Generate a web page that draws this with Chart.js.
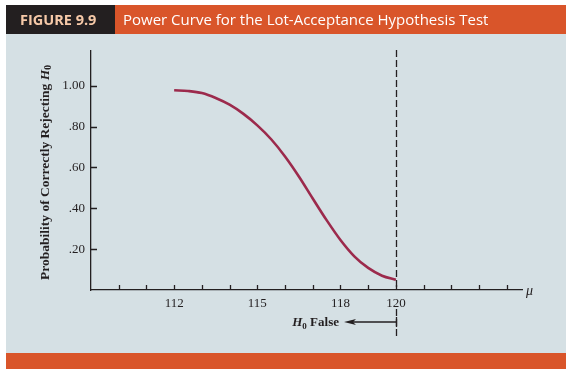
<!DOCTYPE html>
<html>
<head>
<meta charset="utf-8">
<script src="https://cdn.jsdelivr.net/npm/chart.js@4"></script>
<style>
  html, body { margin: 0; padding: 0; background: #fff; }
  canvas { display: block; }
</style>
</head>
<body>
<canvas id="power" width="572" height="373"></canvas>
<script>
// values (every half unit of mu)
const muValues = [112, 112.5, 113, 113.5, 114, 114.5, 115, 115.5, 116, 116.5, 117, 117.5, 118, 118.5, 119, 119.5, 120];
const powerValues = [0.978, 0.974, 0.964, 0.940, 0.907, 0.862, 0.806, 0.738, 0.654, 0.556, 0.448, 0.342, 0.245, 0.165, 0.108, 0.070, 0.050];

const xTickValues = [110, 111, 112, 113, 114, 115, 116, 117, 118, 119, 120, 121, 122, 123, 124];
const xTickLabels = ['', '', '112', '', '', '115', '', '', '118', '', '120', '', '', '', ''];
const yTickValues = [0.2, 0.4, 0.6, 0.8, 1.0];
const yTickLabels = ['.20', '.40', '.60', '.80', '1.00'];

const C = {
  ink: '#231f20',
  panel: '#d5e0e4',
  orange: '#d9552a',
  curve: '#9c2a4c',
  peach: '#f6c9a8'
};
const SERIF = '"Liberation Serif", "DejaVu Serif", serif';
const SANS = '"Open Sans", "Noto Sans", sans-serif';

const frame = {
  id: 'frame',
  beforeDraw(chart) {
    const ctx = chart.ctx;
    ctx.save();
    ctx.fillStyle = '#fff';
    ctx.fillRect(0, 0, chart.width, chart.height);
    ctx.fillStyle = C.panel;
    ctx.fillRect(6, 34, 560, 319);
    ctx.fillStyle = C.orange;
    ctx.fillRect(6, 353, 560, 16);
    ctx.fillRect(115, 5, 451, 29);
    ctx.fillStyle = C.ink;
    ctx.fillRect(6, 5, 109, 29);
    ctx.textBaseline = 'alphabetic';
    ctx.fillStyle = C.peach;
    ctx.font = 'bold 14.5px ' + SANS;
    ctx.fillText('FIGURE 9.9', 20, 25);
    ctx.fillStyle = '#fff';
    ctx.font = '15px ' + SANS;
    ctx.fillText('Power Curve for the Lot-Acceptance Hypothesis Test', 123, 25);
    ctx.restore();
  },
  afterDraw(chart) {
    const ctx = chart.ctx;
    const xs = chart.scales.x, ys = chart.scales.y;
    const area = chart.chartArea;
    ctx.save();
    ctx.strokeStyle = C.ink;
    ctx.fillStyle = C.ink;
    ctx.lineWidth = 1.3;

    // inward tick marks
    ctx.beginPath();
    xTickValues.forEach(v => {
      const px = Math.round(xs.getPixelForValue(v)) + 0.5;
      ctx.moveTo(px, area.bottom);
      ctx.lineTo(px, area.bottom - 5);
    });
    yTickValues.forEach(v => {
      const py = Math.round(ys.getPixelForValue(v)) + 0.5;
      ctx.moveTo(area.left, py);
      ctx.lineTo(area.left + 6, py);
    });
    ctx.stroke();

    // dashed line at mu = 120 (broken around the tick label)
    const x120 = Math.round(xs.getPixelForValue(120)) + 0.5;
    ctx.setLineDash([7, 3]);
    ctx.beginPath();
    ctx.moveTo(x120, area.top - 1);
    ctx.lineTo(x120, area.bottom);
    ctx.moveTo(x120, 309);
    ctx.lineTo(x120, 336);
    ctx.stroke();
    ctx.setLineDash([]);

    // H0 False arrow
    const ay = 322;
    ctx.beginPath();
    ctx.moveTo(x120, ay);
    ctx.lineTo(352, ay);
    ctx.moveTo(x120, ay - 5);
    ctx.lineTo(x120, ay + 5);
    ctx.stroke();
    ctx.beginPath();
    ctx.moveTo(344, ay);
    ctx.lineTo(356, ay - 3);
    ctx.lineTo(353, ay);
    ctx.lineTo(356, ay + 3);
    ctx.closePath();
    ctx.fill();

    ctx.textBaseline = 'alphabetic';
    ctx.textAlign = 'right';
    ctx.font = 'bold 13px ' + SERIF;
    ctx.fillText('False', 339, 326);
    const fw = ctx.measureText(' False').width;
    ctx.font = 'bold 9px ' + SERIF;
    ctx.fillText('0', 339 - fw, 328.5);
    const zw = ctx.measureText('0').width;
    ctx.font = 'italic bold 13px ' + SERIF;
    ctx.fillText('H', 339 - fw - zw, 326);

    // mu label
    ctx.textAlign = 'left';
    ctx.font = 'italic 14px ' + SERIF;
    ctx.fillText('\u03bc', 526, 295);

    // y title
    ctx.translate(48.5, 280);
    ctx.rotate(-Math.PI / 2);
    ctx.font = 'bold 13.5px ' + SERIF;
    const main = 'Probability of Correctly Rejecting ';
    ctx.fillText(main, 0, 0);
    let w = ctx.measureText(main).width;
    ctx.font = 'italic bold 13.5px ' + SERIF;
    ctx.fillText('H', w, 0);
    w += ctx.measureText('H').width;
    ctx.font = 'bold 9.5px ' + SERIF;
    ctx.fillText('0', w, 2.5);
    ctx.restore();
  }
};

new Chart(document.getElementById('power'), {
  type: 'line',
  data: {
    datasets: [{
      data: muValues.map((m, i) => ({ x: m, y: powerValues[i] })),
      borderColor: C.curve,
      borderWidth: 2.6,
      pointRadius: 0,
      cubicInterpolationMode: 'monotone',
      fill: false,
      clip: false
    }]
  },
  options: {
    responsive: false,
    animation: false,
    events: [],
    layout: { padding: { left: 0, top: 51, right: 50, bottom: 0 } },
    plugins: { legend: { display: false }, tooltip: { enabled: false } },
    scales: {
      x: {
        type: 'linear',
        min: 109,
        max: 124.55,
        afterBuildTicks: s => { s.ticks = xTickValues.map(v => ({ value: v })); },
        afterFit: s => { s.height = 83; },
        grid: { display: false, drawTicks: false },
        border: { color: C.ink, width: 1.3 },
        ticks: {
          autoSkip: false,
          maxRotation: 0,
          padding: 6,
          color: C.ink,
          font: { family: SERIF, size: 13 },
          callback: v => xTickLabels[xTickValues.indexOf(v)] || ''
        }
      },
      y: {
        min: 0,
        max: 1.17,
        afterBuildTicks: s => { s.ticks = yTickValues.map(v => ({ value: v })); },
        afterFit: s => { s.width = 91; },
        grid: { display: false, drawTicks: false },
        border: { color: C.ink, width: 1.3 },
        ticks: {
          padding: 6,
          color: C.ink,
          font: { family: SERIF, size: 13 },
          callback: v => yTickLabels[yTickValues.indexOf(v)] || ''
        }
      }
    }
  },
  plugins: [frame]
});
</script>
</body>
</html>
